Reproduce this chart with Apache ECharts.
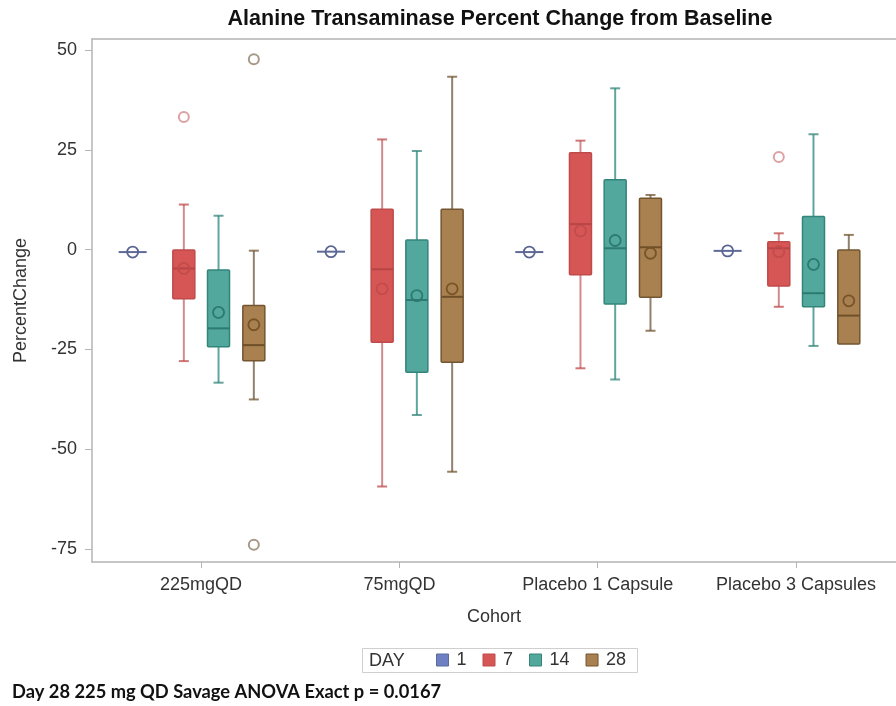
<!DOCTYPE html>
<html><head><meta charset="utf-8">
<script src="https://cdn.jsdelivr.net/npm/echarts@6/dist/echarts.min.js"></script>
<style>html,body{margin:0;padding:0;background:#fff}#c{width:896px;height:706px}</style>
</head><body><div id="c"></div>
<script>
// ---- data ----
const cohorts = ['225mgQD', '75mgQD', 'Placebo 1 Capsule', 'Placebo 3 Capsules'];
const days = ['1', '7', '14', '28'];
const yTicks = [-75, -50, -25, 0, 25, 50];
// each row: [min, q1, median, q3, max, mean] for cohorts in order
const day1Stats = [
  [-0.6, -0.6, -0.6, -0.6, -0.6, -0.6],
  [-0.5, -0.5, -0.5, -0.5, -0.5, -0.5],
  [-0.6, -0.6, -0.6, -0.6, -0.6, -0.6],
  [-0.3, -0.3, -0.3, -0.3, -0.3, -0.3]
];
const day7Stats = [
  [-27.9, -12.3, -4.7, -0.1, 11.3, -4.7],
  [-59.3, -23.2, -4.9, 10.1, 27.6, -9.8],
  [-29.7, -6.3, 6.4, 24.3, 27.3, 4.7],
  [-14.3, -9.1, 0.35, 2.0, 4.1, -0.5]
];
const day14Stats = [
  [-33.3, -24.3, -19.7, -5.1, 8.5, -15.7],
  [-41.4, -30.7, -12.6, 2.4, 24.7, -11.5],
  [-32.5, -13.6, 0.35, 17.5, 40.4, 2.3],
  [-24.1, -14.3, -10.9, 8.3, 28.9, -3.7]
];
const day28Stats = [
  [-37.5, -27.8, -23.9, -14.0, -0.25, -18.8],
  [-55.6, -28.2, -11.8, 10.1, 43.3, -9.8],
  [-20.3, -11.9, 0.6, 12.9, 13.7, -0.9],
  [-23.6, -23.6, -16.5, -0.1, 3.7, -12.8]
];
// outliers: [cohortIndex, value]
const day7Outliers = [[0, 33.2], [3, 23.2]];
const day28Outliers = [[0, 47.7], [0, -73.9]];

// ---- styles ----
const FONT = "'Liberation Sans', Arial, sans-serif";
const FRAME = '#b4b4b4';
const styles = {
  '1':  {offset: -0.345, boxW: 28, capW: 0, fill: '#6f7fc4', stroke: '#5f6a98', whisker: '#7a84b0', mean: '#5a6490', median: '#5a6490'},
  '7':  {offset: -0.087, boxW: 22, capW: 10, fill: '#d65656', stroke: '#bf4a4a', whisker: '#d48a8c', mean: '#c24b4b', median: '#b84545'},
  '14': {offset: 0.088, boxW: 22, capW: 10, fill: '#52a89d', stroke: '#33847a', whisker: '#5ea69d', mean: '#2c7a70', median: '#2c7a70'},
  '28': {offset: 0.266, boxW: 22, capW: 10, fill: '#a98150', stroke: '#735530', whisker: '#91806c', mean: '#775428', median: '#6e4f28'}
};
const statsByDay = {'1': day1Stats, '7': day7Stats, '14': day14Stats, '28': day28Stats};
const outliersByDay = {'7': day7Outliers, '28': day28Outliers};

function makeRender(st) {
  return function (params, api) {
    const x = api.value(0) + st.offset;
    const mn = api.value(1), q1 = api.value(2), md = api.value(3), q3 = api.value(4), mx = api.value(5), mean = api.value(6);
    const c = v => api.coord([x, v]);
    const cx = c(md)[0];
    const yMn = c(mn)[1], yQ1 = c(q1)[1], yMd = c(md)[1], yQ3 = c(q3)[1], yMx = c(mx)[1], yMean = c(mean)[1];
    const hw = st.boxW / 2, cw = st.capW / 2;
    const wl = {stroke: st.whisker, lineWidth: 2};
    const children = [];
    if (yMx < yQ3) {
      children.push({type: 'line', shape: {x1: cx, y1: yQ3, x2: cx, y2: yMx}, style: wl});
      children.push({type: 'line', shape: {x1: cx - cw, y1: yMx, x2: cx + cw, y2: yMx}, style: {stroke: st.stroke, lineWidth: 2, opacity: 0.75}});
    }
    if (yMn > yQ1) {
      children.push({type: 'line', shape: {x1: cx, y1: yQ1, x2: cx, y2: yMn}, style: wl});
      children.push({type: 'line', shape: {x1: cx - cw, y1: yMn, x2: cx + cw, y2: yMn}, style: {stroke: st.stroke, lineWidth: 2, opacity: 0.75}});
    }
    if (yQ1 - yQ3 > 0.5) {
      children.push({type: 'rect', shape: {x: cx - hw, y: yQ3, width: st.boxW, height: yQ1 - yQ3, r: 1},
        style: {fill: st.fill, stroke: st.stroke, lineWidth: 1.5}});
      children.push({type: 'line', shape: {x1: cx - hw, y1: yMd, x2: cx + hw, y2: yMd}, style: {stroke: st.median, lineWidth: 2}});
    } else {
      children.push({type: 'line', shape: {x1: cx - hw, y1: yMd, x2: cx + hw, y2: yMd}, style: {stroke: st.stroke, lineWidth: 2}});
    }
    children.push({type: 'circle', shape: {cx: cx, cy: yMean, r: 5.5}, style: {fill: 'none', stroke: st.mean, lineWidth: 1.8}});
    return {type: 'group', children: children};
  };
}

const series = [];
days.forEach(d => {
  const st = styles[d];
  series.push({
    name: d, type: 'custom',
    itemStyle: {color: st.fill, borderColor: st.stroke},
    renderItem: makeRender(st),
    encode: {x: 0, y: [1, 2, 3, 4, 5]},
    data: statsByDay[d].map((s, i) => [i].concat(s)),
    z: 3
  });
  if (outliersByDay[d]) {
    series.push({
      name: d, type: 'scatter', symbol: 'emptyCircle', symbolSize: 10,
      itemStyle: {color: st.whisker, borderColor: d === '7' ? '#c87474' : '#8a6d50', borderWidth: 1.8},
      data: outliersByDay[d].map(o => [o[0] + st.offset, o[1]]),
      z: 4
    });
  }
});

const X_MIN = -0.55, X_MAX = 3.504;
const chart = echarts.init(document.getElementById('c'), null, {renderer: 'canvas'});
chart.setOption({
  animation: false,
  backgroundColor: '#fff',
  textStyle: {fontFamily: FONT},
  grid: {left: 92, right: 0, top: 39, bottom: 144, show: false},
  xAxis: [{
    type: 'value', min: X_MIN, max: X_MAX, position: 'bottom',
    axisLine: {show: true, onZero: false, lineStyle: {color: FRAME, width: 1.5}},
    splitLine: {show: false},
    axisTick: {show: true, customValues: [0, 1, 2, 3], length: 6, lineStyle: {color: FRAME}},
    axisLabel: {customValues: [0, 1, 2, 3], formatter: v => cohorts[Math.round(v)], fontSize: 18, color: '#333', margin: 14, fontFamily: FONT},
    name: 'Cohort', nameLocation: 'middle', nameGap: 46,
    nameTextStyle: {fontSize: 18, color: '#333', fontFamily: FONT}
  }, {
    type: 'value', min: X_MIN, max: X_MAX, position: 'top',
    axisLine: {show: true, onZero: false, lineStyle: {color: FRAME, width: 1.5}},
    splitLine: {show: false}, axisTick: {show: false}, axisLabel: {show: false}
  }],
  yAxis: {
    type: 'value', min: -78.2, max: 52.75,
    axisLine: {show: true, onZero: false, lineStyle: {color: FRAME, width: 1.5}},
    splitLine: {show: false},
    axisTick: {show: true, customValues: yTicks, length: 7, lineStyle: {color: FRAME}},
    axisLabel: {customValues: yTicks, fontSize: 18, color: '#333', margin: 15, fontFamily: FONT},
    name: 'PercentChange', nameLocation: 'middle', nameGap: 62,
    nameTextStyle: {fontSize: 18, color: '#333', fontFamily: FONT}
  },
  legend: {
    left: 436, top: 651, padding: 0,
    icon: 'rect', itemWidth: 12, itemHeight: 12, itemGap: 16,
    selectedMode: false,
    textStyle: {fontSize: 18, color: '#333', fontFamily: FONT, padding: [0, 0, 0, 3]},
    data: days.map(d => ({name: d, itemStyle: {color: styles[d].fill, borderColor: styles[d].stroke, borderWidth: 1}}))
  },
  graphic: [
    {type: 'text', x: 500, y: 19, style: {text: 'Alanine Transaminase Percent Change from Baseline', font: 'bold 21.5px ' + FONT, fill: '#111', align: 'center', verticalAlign: 'middle'}},
    {type: 'rect', shape: {x: 362.5, y: 648.5, width: 275, height: 24}, style: {fill: 'none', stroke: '#cfcfcf', lineWidth: 1}},
    {type: 'text', x: 369, y: 661, style: {text: 'DAY', font: '18px ' + FONT, fill: '#333', verticalAlign: 'middle'}},
    {type: 'text', x: 12, y: 692, style: {text: 'Day 28 225 mg QD Savage ANOVA Exact p = 0.0167', font: 'bold 18.3px Lato, ' + FONT, fill: '#111', verticalAlign: 'middle'}}
  ],
  series: series
});
</script>
</body></html>
